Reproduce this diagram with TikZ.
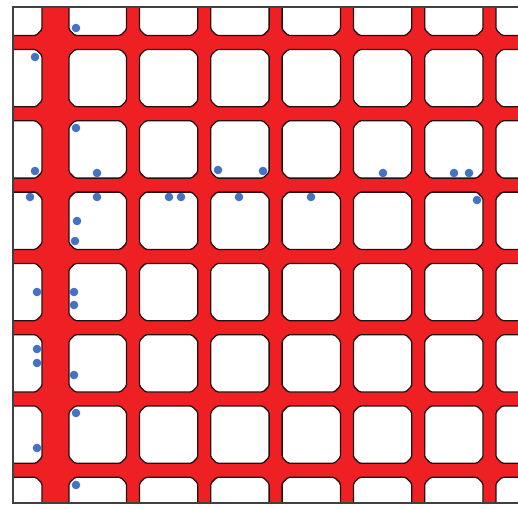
\documentclass[tikz,border=0pt]{standalone}
\definecolor{barred}{RGB}{238,32,36}
\definecolor{dotblue}{RGB}{70,114,196}
\definecolor{edge}{RGB}{35,15,15}
\tikzset{
  cellbox/.style={fill=white, draw=edge, line width=1.3pt, rounded corners=1.5pt},
  framebox/.style={draw=black!75, line width=1.3pt},
  bluedot/.style={fill=dotblue}
}
\begin{document}
\begin{tikzpicture}[x=1pt,y=-1pt]
\useasboundingbox (0,0) rectangle (518,508);
\clip (0,0) rectangle (518,508);
\fill[white] (0,0) rectangle (518,508);
\begin{scope}
  \clip (13,7) rectangle (530,503);
  \fill[barred] (13,7) rectangle (530,503);
  \foreach \xa/\xb in {3/42, 69/126.5, 139.5/197.8, 210.8/269.1, 282.1/340.4, 353.4/411.7, 424.7/483, 496/540} {
    \foreach \ya/\yb in {-3/35.5, 49.5/106.8, 120.8/178.1, 192.1/249.4, 263.4/320.7, 334.7/392, 406/463.3, 477.3/513} {
      \draw[cellbox] ({\xa+6},\ya) -- ({\xb-6},\ya) -- (\xb,{\ya+6}) -- (\xb,{\yb-6}) -- ({\xb-6},\yb) -- ({\xa+6},\yb) -- (\xa,{\yb-6}) -- (\xa,{\ya+6}) -- cycle;
    }
  }
\end{scope}
\draw[framebox] (520,7) -- (13,7) -- (13,503) -- (520,503);
\foreach \px/\py [count=\i] in {76/28, 35/57, 76/128, 35/171, 97/173, 218/170, 263/171, 383/173, 454/173, 469/173, 30/197, 97/197, 169/197, 181/197, 239/197, 311/197, 477/200, 77/221, 75/241, 37/292, 74/292, 74/305, 37/349, 37/363, 74/375, 76/413, 37/448, 76/485} {
  \fill[bluedot] (\px,\py) circle (4.3) coordinate (d\i);
}
\end{tikzpicture}
\end{document}
